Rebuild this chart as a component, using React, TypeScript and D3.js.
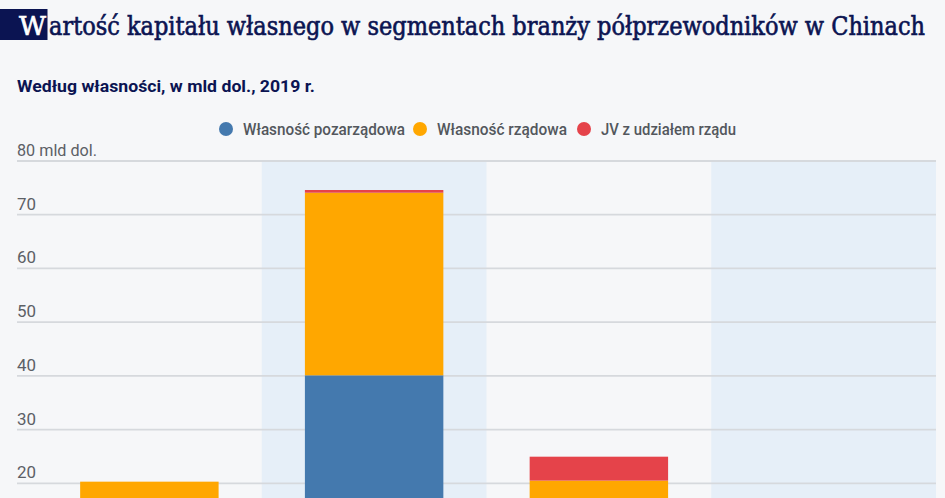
import React from "react";
import * as d3 from "d3";

const categories = ["Projektowanie", "Produkcja", "Pakowanie i testowanie", "Sprzęt i materiały"];
const nonGov = [3, 40.1, 10, 5];
const gov = [17.3, 34.0, 10.5, 6];
const jv = [0, 0.5, 4.45, 0];
const seriesNames = ["Własność pozarządowa", "Własność rządowa", "JV z udziałem rządu"];
const seriesColors = ["#4479ae", "#ffa700", "#e5434a"];
const yTicks = [20, 30, 40, 50, 60, 70, 80];

const W = 945;
const H = 498;

export default function App() {
  const x = d3.scaleBand<string>().domain(categories).range([37, 936]).padding(0);
  const y = d3.scaleLinear().domain([0, 80]).range([590.7, 161]);
  const rows = categories.map((c, i) => ({ cat: c, s0: nonGov[i], s1: gov[i], s2: jv[i] }));
  const stacked = d3.stack<any>().keys(["s0", "s1", "s2"])(rows);
  const bw = x.bandwidth();
  const barW = bw * 0.616;
  const legendX = [226, 420, 584];
  const legendW = [162, 130, 135];
  const titleFont = "'DejaVu Serif Condensed', 'DejaVu Serif', serif";
  return (
    <div style={{ position: "fixed", left: 0, top: 0, width: W, height: H }}>
      <svg width={W} height={H} style={{ display: "block", background: "#f6f7f9" }}>
        <rect x={0} y={9} width={47.5} height={31} fill="#0b1452" />
        <text x={19} y={35} fontFamily={titleFont} fontSize={26} fill="#ffffff" stroke="#ffffff" strokeWidth={0.6} textLength={27} lengthAdjust="spacingAndGlyphs">
          W
        </text>
        <text x={49} y={35} fontFamily={titleFont} fontSize={26} fill="#0b1452" stroke="#0b1452" strokeWidth={0.6} textLength={876} lengthAdjust="spacingAndGlyphs">
          artość kapitału własnego w segmentach branży półprzewodników w Chinach
        </text>
        <text x={17} y={92} fontFamily="Roboto, sans-serif" fontWeight={700} fontSize={17} fill="#0b1452" textLength={298} lengthAdjust="spacingAndGlyphs">
          Według własności, w mld dol., 2019 r.
        </text>
        {seriesNames.map((n, i) => (
          <g key={n}>
            <circle cx={legendX[i]} cy={129} r={7} fill={seriesColors[i]} />
            <text x={legendX[i] + 17} y={135} fontFamily="Roboto, sans-serif" fontWeight={500} fontSize={17} fill="#53575d" textLength={legendW[i]} lengthAdjust="spacingAndGlyphs">
              {n}
            </text>
          </g>
        ))}
        {categories.map((c, i) =>
          i % 2 === 1 ? (
            <rect key={c} x={x(c)} y={y(80)} width={bw} height={H - y(80)} fill="#e6eff8" />
          ) : null
        )}
        {yTicks.map((t) => (
          <g key={t}>
            <line x1={17} x2={936} y1={y(t)} y2={y(t)} stroke="#d6d9dd" strokeWidth={1.8} />
            <text x={17} y={y(t) - 5} fontFamily="Roboto, sans-serif" fontSize={17} fill="#5c6066" textLength={t === 80 ? 80 : 19} lengthAdjust="spacingAndGlyphs">
              {t === 80 ? "80 mld dol." : String(t)}
            </text>
          </g>
        ))}
        {stacked.map((s, si) =>
          s.map((d, i) => (
            <rect
              key={si + "-" + i}
              x={(x(categories[i]) as number) + (bw - barW) / 2}
              y={y(d[1])}
              width={barW}
              height={Math.max(0, y(d[0]) - y(d[1]))}
              fill={seriesColors[si]}
            />
          ))
        )}
      </svg>
    </div>
  );
}
